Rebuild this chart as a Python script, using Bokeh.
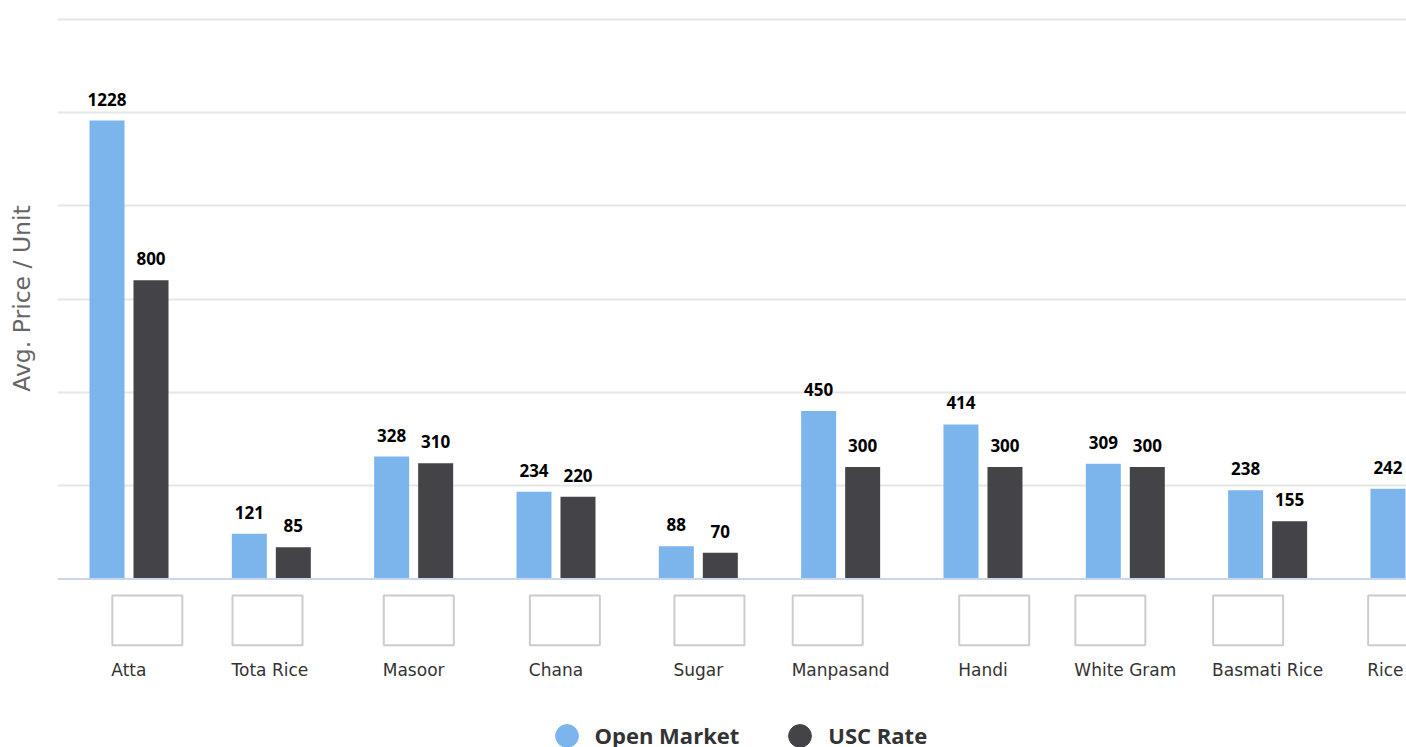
from bokeh.plotting import figure
from bokeh.layouts import column
from bokeh.models import Range1d, FixedTicker, Span, ColumnDataSource, Legend, LegendItem
from bokeh.core.properties import value
from bokeh.embed import file_html
from bokeh.resources import INLINE

# ---------------- data ----------------
categories = ["Atta", "Tota Rice", "Masoor", "Chana", "Sugar", "Manpasand",
              "Handi", "White Gram", "Basmati Rice", "Rice"]
open_market = [1228, 121, 328, 234, 88, 450, 414, 309, 238, 242]
usc_rate = [800, 85, 310, 220, 70, 300, 300, 300, 155, None]  # last one lies outside the view
y_ticks = [0, 250, 500, 750, 1000, 1250, 1500]
series_names = ["Open Market", "USC Rate"]
series_colors = ["#7cb5ec", "#434348"]
y_title = "Avg. Price / Unit"

# ---------------- layout constants ----------------
FONT = "DejaVu Sans"
W_TOTAL = 1406
FRAME_LEFT = 57
FRAME_W = W_TOTAL - FRAME_LEFT
CAT_PX = 142.33
x_start = -71.5 / CAT_PX
x_end = x_start + FRAME_W / CAT_PX
bar_off = 22 / CAT_PX
bar_w = 35 / CAT_PX

top = figure(width=W_TOTAL, height=580, output_backend="svg", toolbar_location=None,
             x_range=Range1d(x_start, x_end), y_range=Range1d(-4.0, 1506.7),
             x_axis_location=None, min_border_left=FRAME_LEFT, min_border_right=0,
             min_border_top=16, min_border_bottom=0, outline_line_color=None)
top.xgrid.visible = False
top.ygrid.ticker = FixedTicker(ticks=y_ticks)
top.ygrid.grid_line_color = "#e6e6e6"
top.ygrid.grid_line_width = 2
top.yaxis.ticker = FixedTicker(ticks=[])
top.yaxis.axis_line_color = None
top.yaxis.major_tick_line_color = None
top.yaxis.minor_tick_line_color = None
top.yaxis.axis_label = y_title
top.yaxis.axis_label_text_font = FONT
top.yaxis.axis_label_text_font_size = "23.5px"
top.yaxis.axis_label_text_font_style = "normal"
top.yaxis.axis_label_text_color = "#666666"
top.yaxis.axis_label_standoff = 22

for k, (vals, color) in enumerate(zip([open_market, usc_rate], series_colors)):
    off = -bar_off if k == 0 else bar_off
    xs = [i + off for i, v in enumerate(vals) if v is not None]
    ys = [v for v in vals if v is not None]
    src = ColumnDataSource(dict(x=xs, top=ys, label=[str(v) for v in ys]))
    top.vbar(x="x", top="top", bottom=0, width=bar_w, source=src,
             fill_color=color, line_color=None)
    top.text(x="x", y="top", text="label", source=src, y_offset=-21.5,
             text_align="center", text_baseline="alphabetic",
             text_font=value("Open Sans"), text_font_size="17px", text_font_style="bold",
             text_color="#000000")

top.add_layout(Span(location=0, dimension="width", line_color="#ccd6eb", line_width=2))

# ---------------- bottom: category labels, image boxes, legend ----------------
bottom = figure(width=W_TOTAL, height=167, output_backend="svg", toolbar_location=None,
                x_range=top.x_range, y_range=Range1d(747, 580),
                x_axis_location=None, y_axis_location=None,
                min_border_left=FRAME_LEFT, min_border_right=0,
                min_border_top=0, min_border_bottom=0, outline_line_color=None)
bottom.grid.visible = False

WID = {" ": .318, "A": .684, "B": .686, "C": .698, "G": .775, "H": .752, "M": .863,
       "R": .695, "S": .635, "T": .611, "W": .989, "a": .613, "c": .550, "d": .635,
       "e": .615, "g": .635, "h": .634, "i": .278, "m": .974, "n": .634, "o": .612,
       "p": .635, "r": .411, "s": .521, "t": .392, "u": .634}
LABEL_SIZE = 17

def text_px(s):
    return sum(WID.get(ch, 0.6) for ch in s) * LABEL_SIZE

lefts = []
for i, c in enumerate(categories):
    w = text_px(c) / CAT_PX
    lefts.append(min(i - w / 2, x_end - w - 3 / CAT_PX))

box_src = ColumnDataSource(dict(left=[l + 1 / CAT_PX for l in lefts],
                                right=[l + 71 / CAT_PX for l in lefts]))
bottom.quad(left="left", right="right", top=595, bottom=644.7, source=box_src,
            fill_color=None, line_color="#cccccc", line_width=2)
lab_src = ColumnDataSource(dict(x=lefts, text=categories))
bottom.text(x="x", y=669, text="text", source=lab_src, text_align="left",
            text_baseline="alphabetic", text_font=value(FONT),
            text_font_size=f"{LABEL_SIZE}px", text_color="#333333")

items = []
for name, color in zip(series_names, series_colors):
    # a point outside the visible range, only so that the legend draws its marker
    r = bottom.scatter([x_start - 5], [700], marker="circle", size=20,
                       fill_color=color, line_color=color)
    items.append(LegendItem(label=name, renderers=[r]))
legend = Legend(items=items, orientation="horizontal", location=(480.5, -16.5),
                glyph_width=57, glyph_height=57, label_standoff=0, spacing=32,
                padding=0, margin=0, border_line_color=None, background_fill_alpha=0,
                label_text_font="Open Sans", label_text_font_size="22px",
                label_text_font_style="bold", label_text_color="#333333")
bottom.add_layout(legend)

layout = column(top, bottom, spacing=0)
open("out.html", "w").write(file_html(layout, INLINE))
